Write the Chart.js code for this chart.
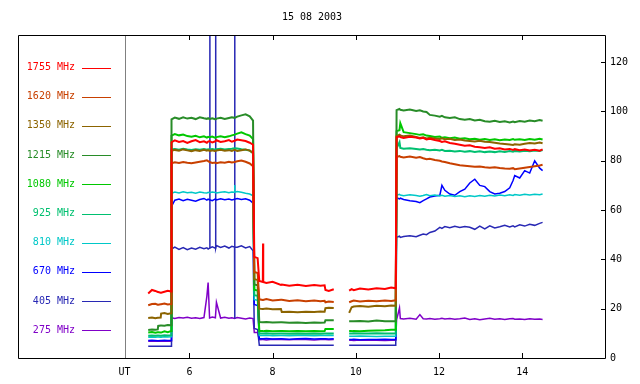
<!DOCTYPE html>
<html><head><meta charset="utf-8">
<script src="https://cdn.jsdelivr.net/npm/chart.js@4/dist/chart.umd.min.js"></script>
<style>html,body{margin:0;padding:0;background:#fff}#wrap{width:640px;height:384px}</style>
</head><body><div id="wrap"><canvas id="c" width="640" height="384"></canvas></div>
<script>
const FONT_FAMILY = '"DejaVu Sans Mono", monospace';
const chartTitle = '15 08 2003';
const seriesNames = ['1755 MHz','1620 MHz','1350 MHz','1215 MHz','1080 MHz','925 MHz','810 MHz','670 MHz','405 MHz','275 MHz'];
const seriesColors = ['#ff0000','#c84000','#8c6400','#288c28','#00c800','#00c070','#00c8c8','#0000ff','#2828b4','#8000c8'];
const xTickValues = [6, 8, 10, 12, 14];
const yTickValues = [0, 20, 40, 60, 80, 100, 120];
const utLabel = 'UT';
const utPosition = 4.44;

// time axis (UT hours)
const hours = [
  5.01, 5.10, 5.18, 5.24, 5.25, 5.31, 5.32, 5.40, 5.48, 5.56,
  5.57, 5.65, 5.75, 5.85, 5.95, 6.05, 6.15, 6.25, 6.35, 6.42,
  6.45, 6.485, 6.49, 6.495, 6.55, 6.625, 6.63, 6.635, 6.65, 6.75,
  6.85, 6.95, 7.02, 7.086, 7.088, 7.09, 7.092, 7.094, 7.15, 7.25,
  7.35, 7.45, 7.53,
  7.56, 7.64,
  7.68, 7.765, 7.77, 7.775, 7.85, 8.0, 8.2, 8.22, 8.4, 8.6, 8.8, 9.0, 9.15, 9.25, 9.27, 9.35, 9.47,
  9.6,
  9.84, 9.90, 9.95, 10.1, 10.3, 10.5, 10.7, 10.85, 10.96,
  10.98, 11.05, 11.07, 11.15, 11.3, 11.45, 11.54, 11.62, 11.70, 11.78,
  11.9, 12.02, 12.07, 12.14, 12.26, 12.38, 12.50, 12.62, 12.74, 12.86,
  12.98, 13.1, 13.22, 13.34, 13.46, 13.58, 13.70, 13.78, 13.82, 13.94,
  14.06, 14.18, 14.30, 14.42, 14.49
];

const f1755 = [
  26.2, 27.6, 27.2, 26.8, 26.8, 26.5, 26.5, 26.9, 27.3, 27.0,
  87.5, 88.3, 87.6, 88.0, 87.2, 87.9, 88.4, 87.5, 87.9, 87.3,
  87.8, 88.0, 88.0, 88.0, 87.4, 87.9, 87.9, 87.9, 88.3, 87.6,
  87.9, 88.4, 87.7, 88.1, 88.1, 88.1, 88.1, 88.1, 88.6, 88.3,
  88.0, 87.3, 86.5,
  41.0, 40.5,
  31.2, 30.8, 46.4, 30.8, 30.4, 30.9, 29.6, 29.8, 29.3, 29.7, 29.2, 29.6, 29.3, 29.5, 27.6, 27.2, 27.9,
  null,
  27.3, 27.9, 27.5, 28.2, 27.8, 28.3, 28.0, 28.6, 28.3,
  89.5, 89.9, 89.6, 89.2, 89.7, 89.4, 89.0, 89.3, 88.6, 88.9,
  88.4, 88.0, 87.6, 87.9, 87.2, 86.9, 86.5, 86.1, 86.3, 85.7,
  85.5, 85.2, 85.5, 84.9, 85.1, 84.6, 84.8, 84.4, 84.7, 84.3,
  84.6, 84.2, 84.5, 84.1, 84.6
];
const f1620 = [
  21.4, 21.9, 22.0, 21.6, 21.6, 21.8, 21.8, 22.1, 21.7, 21.9,
  79.0, 79.4, 79.1, 79.5, 79.2, 79.0, 79.3, 79.6, 79.9, 80.2,
  79.8, 79.5, 79.5, 79.5, 79.1, 79.3, 79.3, 79.3, 79.0, 79.4,
  79.2, 79.6, 79.3, 79.5, 79.5, 79.5, 79.5, 79.5, 79.8, 80.1,
  79.6, 78.9, 77.8,
  34.9, 34.5,
  23.8, 23.5, 23.5, 23.5, 23.9, 23.3, 23.6, 23.6, 23.1, 23.4, 23.0, 23.3, 23.0, 23.2, 22.6, 22.9, 22.7,
  null,
  22.6, 23.0, 23.3, 22.9, 23.2, 23.0, 23.3, 23.1, 23.4,
  81.5, 81.9, 81.6, 81.3, 81.7, 81.2, 81.5, 81.0, 80.6, 80.8,
  80.3, 80.0, 79.7, 79.5, 79.0, 78.6, 78.2, 78.0, 77.8, 77.6,
  77.7, 77.4, 77.2, 77.4, 77.1, 76.9, 76.8, 77.0, 76.6, 76.9,
  77.2, 77.5, 77.8, 78.1, 78.4
];
const f1350 = [
  16.2, 16.4, 16.1, 16.3, 16.3, 16.4, 18.0, 18.2, 17.9, 18.1,
  84.0, 84.4, 84.1, 84.6, 84.2, 83.9, 84.3, 84.0, 84.4, 84.1,
  84.3, 84.0, 84.0, 84.0, 84.2, 83.9, 83.9, 83.9, 84.2, 84.5,
  84.1, 84.3, 84.0, 84.4, 84.4, 84.4, 84.4, 84.4, 84.0, 84.3,
  84.6, 84.1, 83.2,
  32.0, 31.6,
  20.0, 19.9, 19.9, 19.9, 20.1, 19.8, 19.9, 18.7, 18.8, 18.6, 18.8, 18.7, 18.9, 18.8, 20.2, 20.4, 20.3,
  null,
  18.3, 20.6, 20.9, 21.1, 20.8, 21.2, 21.0, 21.3, 21.2,
  90.0, 90.6, 90.3, 89.9, 90.2, 89.6, 89.2, 89.5, 89.0, 89.3,
  89.0, 88.8, 89.1, 88.7, 88.9, 88.4, 88.6, 88.2, 88.0, 87.8,
  88.1, 87.7, 87.6, 87.3, 87.0, 86.8, 86.6, 86.4, 86.7, 86.5,
  86.9, 87.2, 87.0, 87.4, 87.1
];
const f1215 = [
  11.4, 11.6, 11.5, 11.6, 13.0, 13.2, 13.2, 13.1, 13.4, 13.3,
  96.8, 97.5, 97.0, 97.6, 97.1, 97.4, 96.9, 97.6, 97.2, 97.0,
  97.3, 96.9, 96.9, 96.9, 97.2, 96.8, 96.8, 96.8, 97.1, 97.4,
  96.9, 97.3, 97.6, 97.4, 97.4, 97.4, 97.4, 97.4, 97.9, 98.4,
  98.8, 98.0, 96.3,
  29.8, 29.5,
  14.6, 14.5, 14.5, 14.5, 14.6, 14.4, 14.5, 14.5, 14.3, 14.4, 14.2, 14.4, 14.3, 14.4, 15.3, 15.3, 15.3,
  null,
  14.9, 14.9, 14.9, 15.0, 14.8, 15.2, 14.9, 14.9, 14.9,
  100.5, 101.0, 100.7, 100.4, 100.8, 100.2, 100.5, 100.0, 99.8, 98.6,
  98.3, 97.9, 98.2, 97.6, 97.3, 97.6, 96.9, 96.6, 96.9, 96.3,
  96.6, 96.0, 95.8, 96.2, 95.7, 96.0, 95.5, 95.9, 95.6, 96.1,
  95.8, 96.3, 96.0, 96.5, 96.2
];
const f1080 = [
  10.3, 10.5, 10.2, 10.4, 10.4, 10.3, 10.3, 10.8, 10.5, 10.9,
  90.2, 90.8, 90.3, 90.6, 90.0, 89.7, 90.1, 89.5, 89.9, 89.4,
  89.7, 89.5, 89.5, 89.5, 89.8, 89.3, 89.3, 89.3, 89.6, 89.9,
  89.5, 89.9, 90.3, 90.6, 90.6, 90.6, 90.6, 90.6, 91.0, 91.5,
  90.8, 90.2, 88.8,
  27.7, 27.4,
  10.9, 10.9, 10.9, 10.9, 11.0, 10.8, 10.9, 10.9, 10.8, 10.9, 10.8, 10.9, 10.8, 10.9, 11.8, 11.8, 11.8,
  null,
  10.9, 10.9, 11.0, 10.9, 11.1, 11.2, 11.3, 11.5, 11.5,
  92.0, 92.4, 95.2, 91.6, 91.2, 90.8, 90.5, 90.7, 90.2, 90.0,
  89.6, 89.8, 89.3, 89.5, 89.1, 89.4, 88.9, 89.1, 88.7, 88.9,
  88.5, 88.8, 88.4, 88.7, 88.3, 88.6, 88.4, 88.8, 88.5, 88.7,
  88.4, 88.8, 88.5, 88.9, 88.6
];
const f925 = [
  9.0, 9.1, 9.0, 9.1, 9.1, 9.0, 9.0, 9.2, 9.1, 9.2,
  84.6, 84.8, 84.5, 84.9, 84.6, 84.4, 84.7, 84.5, 84.8, 84.5,
  84.7, 84.6, 84.6, 84.6, 84.8, 84.5, 84.5, 84.5, 84.7, 84.9,
  84.6, 84.8, 84.9, 85.1, 85.1, 85.1, 85.1, 85.1, 85.0, 84.7,
  84.5, 84.2, 83.0,
  25.5, 25.2,
  9.9, 9.9, 9.9, 9.9, 10.0, 9.8, 9.9, 9.9, 9.8, 9.9, 9.8, 9.9, 9.8, 9.9, 9.9, 9.9, 9.9,
  null,
  9.9, 9.9, 10.0, 9.9, 9.9, 10.0, 9.9, 9.9, 9.9,
  85.0, 87.5, 85.2, 84.9, 85.1, 84.8, 84.6, 84.8, 84.5, 84.3,
  84.5, 84.2, 84.4, 84.0, 84.1, 83.8, 84.0, 83.7, 83.9, 83.6,
  83.8, 83.5, 83.7, 83.5, 83.8, 83.6, 83.9, 83.7, 84.0, 83.8,
  84.1, 83.9, 84.2, 84.0, 84.3
];
const f810 = [
  8.4, 8.5, 8.4, 8.5, 8.5, 8.4, 8.4, 8.6, 8.5, 8.6,
  66.8, 67.3, 66.9, 67.4, 67.0, 67.2, 66.8, 67.3, 67.0, 66.9,
  67.2, 67.0, 67.0, 67.0, 67.3, 67.1, 67.1, 67.1, 66.9, 67.2,
  67.4, 67.0, 67.3, 67.2, 67.2, 70.2, 67.2, 67.2, 67.5, 67.2,
  66.8, 66.5, 65.8,
  23.7, 23.4,
  9.1, 9.1, 9.1, 9.1, 9.2, 9.0, 9.1, 9.1, 9.0, 9.1, 9.1, 9.0, 9.1, 9.1, 9.1, 9.2, 9.1,
  null,
  8.8, 8.8, 8.8, 8.9, 8.8, 8.7, 8.8, 8.8, 8.8,
  66.0, 66.4, 66.1, 65.8, 66.2, 65.9, 65.6, 65.9, 66.3, 65.8,
  66.1, 65.7, 66.0, 65.6, 65.9, 65.5, 65.8, 65.4, 65.8, 65.5,
  65.9, 65.6, 66.0, 65.7, 66.1, 65.8, 66.2, 65.9, 66.3, 66.0,
  66.4, 66.1, 66.4, 66.2, 66.5
];
const f670 = [
  7.1, 7.2, 7.1, 7.0, 7.0, 7.1, 7.1, 7.2, 7.1, 7.2,
  61.5, 64.0, 64.5, 63.8, 64.4, 64.0, 63.6, 64.3, 64.7, 64.0,
  64.4, 64.2, 64.2, 64.2, 63.8, 64.5, 64.5, 64.5, 64.1, 64.6,
  64.2, 64.5, 64.1, 64.4, 64.4, 64.4, 64.4, 64.4, 64.7, 64.3,
  64.6, 64.0, 62.8,
  21.7, 21.3,
  7.8, 7.8, 7.8, 7.8, 7.9, 7.7, 7.8, 7.8, 7.6, 7.8, 7.9, 7.7, 7.8, 7.8, 7.8, 7.7, 7.8,
  null,
  7.5, 7.5, 7.6, 7.4, 7.5, 7.5, 7.6, 7.5, 7.5,
  65.0, 64.5, 64.8, 64.3, 63.8, 63.5, 63.0, 63.8, 64.5, 65.3,
  65.7, 66.0, 70.0, 68.0, 66.5, 66.0, 67.5, 68.5, 71.0, 72.5,
  70.0, 69.5, 67.5, 66.5, 66.8, 67.5, 69.0, 72.0, 74.0, 73.0,
  76.0, 75.0, 80.0, 77.0, 76.0
];
const f405 = [
  4.8, 4.8, 4.8, 4.8, 4.8, 4.8, 4.8, 4.8, 4.8, 4.8,
  44.2, 45.0, 44.0, 44.8, 43.9, 44.6, 44.1, 44.9, 44.3, 44.7,
  44.2, 44.6, 200, 44.6, 45.1, 44.5, 200, 44.5, 45.6, 44.8,
  45.4, 44.6, 45.3, 45.0, 200, 16.0, 200, 45.0, 44.9, 45.5,
  44.6, 45.2, 43.5,
  12.0, 11.5,
  5.2, 5.2, 5.2, 5.2, 5.2, 5.2, 5.2, 5.2, 5.2, 5.2, 5.2, 5.2, 5.2, 5.2, 5.2, 5.2, 5.2,
  null,
  5.2, 5.2, 5.2, 5.2, 5.2, 5.2, 5.2, 5.2, 5.2,
  49.0, 49.4, 48.9, 49.3, 49.6, 49.2, 49.8, 50.3, 50.0, 50.9,
  51.5, 53.0, 52.6, 53.3, 52.8, 53.4, 52.9, 53.3, 53.0, 52.2,
  53.5, 52.4, 53.6, 52.7, 53.2, 53.8, 53.1, 53.6, 53.2, 54.0,
  53.5, 54.2, 53.8, 54.6, 55.0
];
const f275 = [
  6.8, 6.8, 6.8, 6.8, 6.8, 6.8, 6.8, 6.8, 6.8, 6.8,
  16.3, 16.0, 16.4, 16.2, 16.5, 16.1, 16.3, 16.0, 16.4, 25.0,
  30.6, 16.2, 16.2, 16.2, 16.6, 16.3, 16.3, 16.3, 22.6, 16.2,
  16.5, 16.1, 16.3, 16.0, 16.0, 16.0, 16.0, 16.0, 16.4, 16.1,
  15.8, 16.2, 16.0,
  10.3, 10.3,
  7.4, 7.5, 7.5, 7.5, 7.3, 7.6, 7.5, 7.5, 7.4, 7.6, 7.5, 7.3, 7.5, 7.5, 7.5, 7.4, 7.5,
  null,
  7.2, 7.2, 7.1, 7.3, 7.2, 7.2, 7.1, 7.2, 7.2,
  15.5, 20.3, 16.0, 15.8, 16.1, 15.7, 17.6, 15.9, 15.8, 16.0,
  15.7, 15.9, 16.1, 15.8, 16.0, 15.7, 15.9, 16.2, 15.6, 15.9,
  15.5, 15.8, 16.1, 15.7, 15.9, 15.6, 15.9, 16.0, 15.7, 15.8,
  15.6, 15.9, 15.7, 15.8, 15.6
];

const seriesValues = [f1755, f1620, f1350, f1215, f1080, f925, f810, f670, f405, f275];
const seriesWidths = [2, 2, 2, 2, 2, 2, 1.5, 1.5, 1.5, 1.5];

const datasets = seriesValues.map((vals, i) => ({
  label: seriesNames[i],
  data: hours.map((t, k) => ({ x: t, y: vals[k] === undefined ? null : vals[k] })),
  borderColor: seriesColors[i],
  backgroundColor: seriesColors[i],
  borderWidth: seriesWidths[i],
  pointRadius: 0,
  tension: 0,
  spanGaps: false,
  fill: false
}));

const decorPlugin = {
  id: 'decor',
  afterDraw(chart) {
    const ctx = chart.ctx;
    const a = chart.chartArea;
    const xs = chart.scales.x, ys = chart.scales.y;
    ctx.save();
    // title
    ctx.font = '10px ' + FONT_FAMILY;
    ctx.fillStyle = '#000';
    ctx.textAlign = 'center';
    ctx.textBaseline = 'middle';
    ctx.fillText(chartTitle, 312, 17);
    // UT separator
    const ux = Math.round(xs.getPixelForValue(utPosition)) + 0.5;
    ctx.strokeStyle = '#808080';
    ctx.lineWidth = 1;
    ctx.beginPath(); ctx.moveTo(ux, a.top); ctx.lineTo(ux, a.bottom); ctx.stroke();
    // frame
    ctx.strokeStyle = '#000';
    ctx.beginPath();
    ctx.rect(Math.round(a.left) + 0.5, Math.round(a.top) + 0.5, Math.round(a.right - a.left), Math.round(a.bottom - a.top));
    ctx.stroke();
    // x ticks (top and bottom, inward)
    ctx.beginPath();
    xTickValues.forEach(v => {
      const px = Math.round(xs.getPixelForValue(v)) + 0.5;
      ctx.moveTo(px, a.top); ctx.lineTo(px, a.top + 5);
      ctx.moveTo(px, a.bottom); ctx.lineTo(px, a.bottom - 5);
    });
    // y ticks (right, inward)
    yTickValues.forEach(v => {
      const py = Math.round(ys.getPixelForValue(v)) + 0.5;
      ctx.moveTo(a.right, py); ctx.lineTo(a.right - 4, py);
    });
    ctx.stroke();
    // legend
    ctx.textAlign = 'right';
    seriesNames.forEach((name, i) => {
      const y = 67.5 + i * 29.2;
      ctx.fillStyle = seriesColors[i];
      ctx.fillText(name, 75, y);
      ctx.strokeStyle = seriesColors[i];
      ctx.beginPath();
      ctx.moveTo(82, Math.round(y) + 0.5); ctx.lineTo(111, Math.round(y) + 0.5);
      ctx.stroke();
    });
    ctx.restore();
  }
};

new Chart(document.getElementById('c'), {
  type: 'line',
  data: { datasets },
  options: {
    responsive: false,
    devicePixelRatio: 1,
    animation: false,
    events: [],
    layout: { padding: { left: 18, top: 35, right: 0, bottom: 0 } },
    plugins: { legend: { display: false }, tooltip: { enabled: false }, title: { display: false } },
    scales: {
      x: {
        type: 'linear', position: 'bottom', min: 1.88, max: 15.99,
        grid: { display: false, drawTicks: false }, border: { display: false },
        afterBuildTicks: s => { s.ticks = [utPosition, ...xTickValues].map(v => ({ value: v })); },
        afterFit: s => { s.height = 26; },
        ticks: {
          autoSkip: false, maxRotation: 0, padding: 8, color: '#000',
          font: { family: FONT_FAMILY, size: 10 },
          callback: v => (v === utPosition ? utLabel : String(v))
        }
      },
      y: {
        type: 'linear', position: 'right', min: 0, max: 131,
        grid: { display: false, drawTicks: false }, border: { display: false },
        afterBuildTicks: s => { s.ticks = yTickValues.map(v => ({ value: v })); },
        afterFit: s => { s.width = 35; },
        ticks: { padding: 5, color: '#000', font: { family: FONT_FAMILY, size: 10 } }
      }
    }
  },
  plugins: [decorPlugin]
});
</script>
</body></html>
